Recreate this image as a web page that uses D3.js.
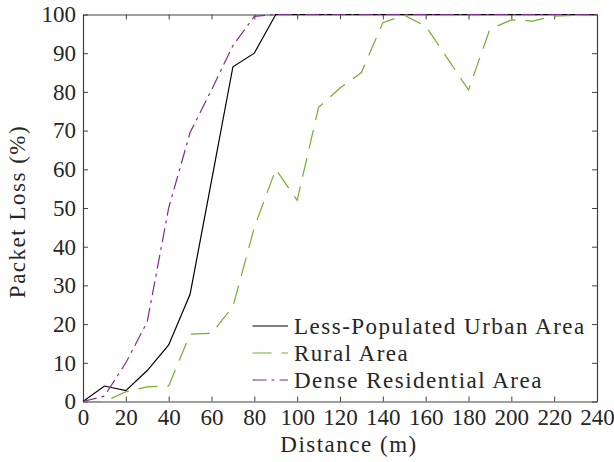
<!DOCTYPE html>
<html>
<head>
<meta charset="utf-8">
<script src="https://cdn.jsdelivr.net/npm/d3@7"></script>
<style>
  body { margin: 0; background: #fff; }
  text { font-family: "Liberation Serif", "Times New Roman", serif; fill: #262626; }
</style>
</head>
<body>
<svg id="chart" width="614" height="462"></svg>
<script>
var distance = [0, 10, 20, 30, 40, 50, 60, 70, 80, 90, 100, 110, 120, 130, 140, 150, 160, 170, 180, 190, 200, 210, 220, 230, 240];
var urban = [0, 4, 2.8, 8, 14.6, 27.7, 57, 86.5, 90, 100, 100, 100, 100, 100, 100, 100, 100, 100, 100, 100, 100, 100, 100, 100, 100];
var rural = [0, 0, 2.5, 3.8, 4, 17.4, 17.6, 24.5, 45, 60, 52, 76, 81, 85, 97.9, 99.8, 97, 88.8, 80.5, 96.2, 98.6, 98.3, 99.6, 99.8, 99.8];
var dense = [0, 1.4, 10, 20.6, 50, 69.5, 80.5, 92, 99.5, 100, 100, 100, 100, 100, 100, 100, 100, 100, 100, 100, 100, 100, 100, 100, 100];
var xTicks = d3.range(0, 241, 20);
var yTicks = d3.range(0, 101, 10);
var seriesNames = ["Less-Populated Urban Area", "Rural Area", "Dense Residential Area"];

var series = [
  { name: seriesNames[0], values: urban, color: "#000000", dash: null },
  { name: seriesNames[1], values: rural, color: "#77ac30", dash: "19,10" },
  { name: seriesNames[2], values: dense, color: "#7e2f8e", dash: "14,5,3,5" }
];

var margin = { left: 83, right: 17, top: 14.5, bottom: 60.5 };
var width = 614 - margin.left - margin.right;
var height = 462 - margin.top - margin.bottom;

var svg = d3.select("#chart");
var g = svg.append("g").attr("transform", "translate(" + margin.left + "," + margin.top + ")");

var x = d3.scaleLinear().domain([0, 240]).range([0, width]);
var y = d3.scaleLinear().domain([0, 100]).range([height, 0]);

var axisColor = "#404040";
var fs = "23px";

var xAxis = g.append("g").attr("transform", "translate(0," + height + ")")
  .call(d3.axisBottom(x).tickValues(xTicks).tickSizeInner(-5).tickSizeOuter(0).tickPadding(7));
var xTop = g.append("g")
  .call(d3.axisTop(x).tickValues(xTicks).tickSizeInner(-5).tickSizeOuter(0).tickFormat(""));
var yAxis = g.append("g")
  .call(d3.axisLeft(y).tickValues(yTicks).tickSizeInner(-5).tickSizeOuter(0).tickPadding(7));
var yRight = g.append("g").attr("transform", "translate(" + width + ",0)")
  .call(d3.axisRight(y).tickValues(yTicks).tickSizeInner(-5).tickSizeOuter(0).tickFormat(""));

[xAxis, xTop, yAxis, yRight].forEach(function(a) {
  a.select(".domain").attr("stroke", axisColor).attr("stroke-width", 1.2);
  a.selectAll(".tick line").attr("stroke", axisColor).attr("stroke-width", 1);
  a.selectAll("text").attr("font-size", fs).attr("font-family", "Liberation Serif").attr("fill", "#262626");
});

var line = d3.line()
  .x(function(d, i) { return x(distance[i]); })
  .y(function(d) { return y(d); });

g.selectAll(".series")
  .data(series).enter().append("path")
  .attr("class", "series")
  .attr("d", function(d) { return line(d.values); })
  .attr("fill", "none")
  .attr("stroke", function(d) { return d.color; })
  .attr("stroke-width", 1.2)
  .attr("stroke-dasharray", function(d) { return d.dash; });

g.append("text")
  .attr("x", 266).attr("y", height + 50.5)
  .attr("text-anchor", "middle")
  .attr("font-size", fs)
  .attr("letter-spacing", "1.5px")
  .text("Distance (m)");

g.append("text")
  .attr("transform", "translate(-58," + 197 + ") rotate(-90)")
  .attr("text-anchor", "middle")
  .attr("font-size", fs)
  .attr("letter-spacing", "1.5px")
  .text("Packet Loss (%)");

// legend
var legend = g.selectAll(".legend")
  .data(series).enter().append("g")
  .attr("class", "legend")
  .attr("transform", function(d, i) { return "translate(169.5," + (311.5 + i * 27) + ")"; });

legend.append("line")
  .attr("x1", 0).attr("x2", 35.5).attr("y1", 0).attr("y2", 0)
  .attr("stroke", function(d) { return d.color; })
  .attr("stroke-width", 1.2)
  .attr("stroke-dasharray", function(d) { return d.dash; });

legend.append("text")
  .attr("x", 41.5).attr("y", 7.5)
  .attr("font-size", fs)
  .attr("letter-spacing", "1.5px")
  .text(function(d) { return d.name; });
</script>
</body>
</html>
